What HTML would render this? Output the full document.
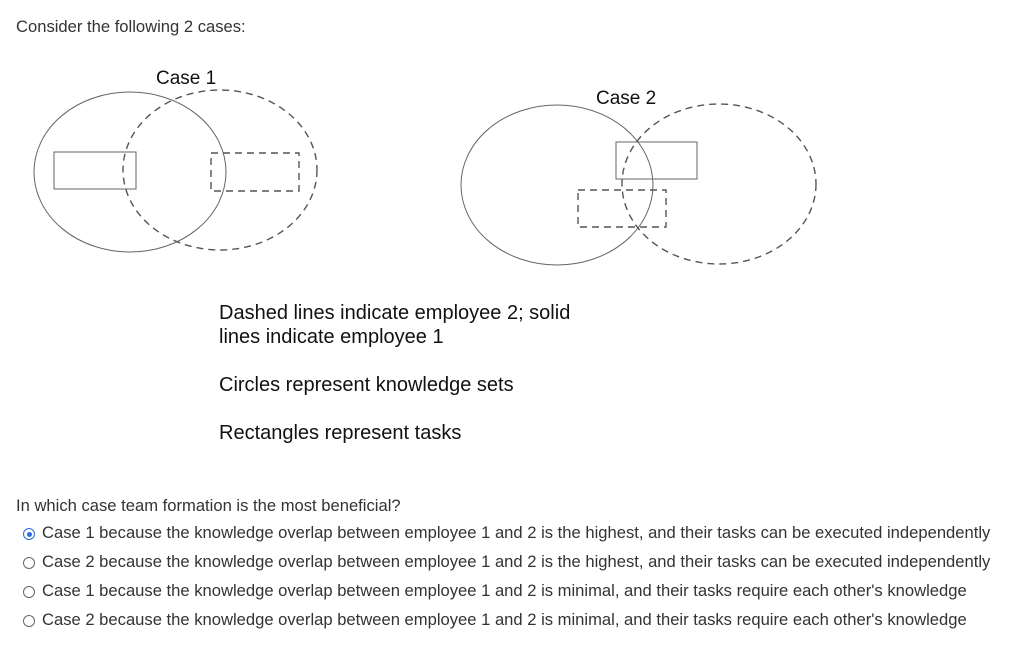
<!DOCTYPE html>
<html><head><style>
body{margin:0;width:1035px;height:653px;background:#fff;position:relative;overflow:hidden;font-family:"Liberation Sans",sans-serif}
.t{position:absolute;white-space:nowrap}
.q{font-size:16.6px;color:#333}
.d{font-size:20px;color:#111}
.r{position:absolute;width:12px;height:12px;border:1px solid #666;border-radius:50%;box-sizing:border-box}
</style></head><body>
<div class="t q" style="left:16px;top:17px">Consider the following 2 cases:</div>
<svg style="position:absolute;left:0;top:0" width="1035" height="300">
<g fill="none" stroke="#666" stroke-width="1">
<ellipse cx="130" cy="172" rx="96" ry="80"/>
<rect x="54" y="152" width="82" height="37"/>
<ellipse cx="557" cy="185" rx="96" ry="80"/>
<rect x="616" y="142" width="81" height="37"/>
</g>
<g fill="none" stroke="#555" stroke-width="1.4" stroke-dasharray="7,5">
<ellipse cx="220" cy="170" rx="97" ry="80"/>
<rect x="211" y="153" width="88" height="38"/>
<ellipse cx="719" cy="184" rx="97" ry="80"/>
<rect x="578" y="190" width="88" height="37"/>
</g>
<text x="156" y="84" font-size="19" font-family="Liberation Sans" fill="#111">Case 1</text>
<text x="596" y="104" font-size="19" font-family="Liberation Sans" fill="#111">Case 2</text>
</svg>
<div class="t d" style="left:219px;top:302px">Dashed lines indicate employee 2; solid</div>
<div class="t d" style="left:219px;top:326px">lines indicate employee 1</div>
<div class="t d" style="left:219px;top:374px">Circles represent knowledge sets</div>
<div class="t d" style="left:219px;top:422px">Rectangles represent tasks</div>
<div class="t q" style="left:16px;top:496px">In which case team formation is the most beneficial?</div>
<div class="r" style="left:23px;top:528px;border-color:#2a6fdb"><div style="position:absolute;left:2.5px;top:2.5px;width:5px;height:5px;border-radius:50%;background:#2a6fdb"></div></div>
<div class="t q" style="left:42px;top:523px">Case 1 because the knowledge overlap between employee 1 and 2 is the highest, and their tasks can be executed independently</div>
<div class="r" style="left:23px;top:557px"></div>
<div class="t q" style="left:42px;top:552px">Case 2 because the knowledge overlap between employee 1 and 2 is the highest, and their tasks can be executed independently</div>
<div class="r" style="left:23px;top:586px"></div>
<div class="t q" style="left:42px;top:581px">Case 1 because the knowledge overlap between employee 1 and 2 is minimal, and their tasks require each other's knowledge</div>
<div class="r" style="left:23px;top:615px"></div>
<div class="t q" style="left:42px;top:610px">Case 2 because the knowledge overlap between employee 1 and 2 is minimal, and their tasks require each other's knowledge</div>
</body></html>
